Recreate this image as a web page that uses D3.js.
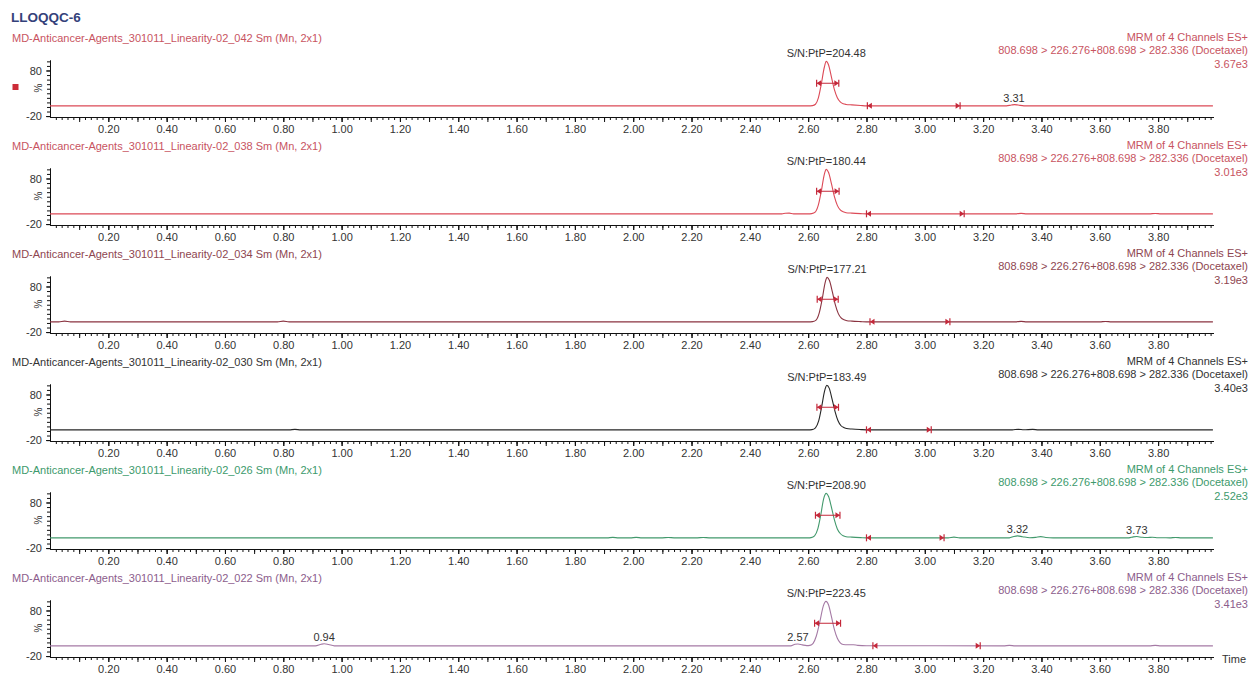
<!DOCTYPE html>
<html>
<head>
<meta charset="utf-8">
<script src="https://cdn.jsdelivr.net/npm/d3@7/dist/d3.min.js"></script>
<style>
  html, body { margin: 0; padding: 0; background: #fff; }
  svg { display: block; font-family: "Liberation Sans", Arial, sans-serif; }
</style>
</head>
<body>
<svg id="chart" width="1250" height="675"></svg>
<script>
// ---------------- DATA ----------------
const chartTitle = "LLOQQC-6";
const sampleIds = ["042", "038", "034", "030", "026", "022"];
const snValues = ["204.48", "180.44", "177.21", "183.49", "208.90", "223.45"];
const intensities = ["3.67e3", "3.01e3", "3.19e3", "3.40e3", "2.52e3", "3.41e3"];
const channelLine1 = "MRM of 4 Channels ES+";
const channelLine2 = "808.698 > 226.276+808.698 > 282.336 (Docetaxel)";
const peakApex = [2.662, 2.662, 2.665, 2.664, 2.662, 2.662];
const peakMarks = [[2.629, 2.705], [2.629, 2.706], [2.631, 2.703], [2.630, 2.704], [2.625, 2.709], [2.622, 2.711]];
const peakMarkLevel = [52, 52, 52, 52, 52, 52];
const noiseMarks = [[2.803, 3.121], [2.800, 3.135], [2.812, 3.086], [2.800, 3.022], [2.800, 3.066], [2.822, 3.190]];
const labeledPeaks = [
  [[3.306, "3.31"]],
  [],
  [],
  [],
  [[3.318, "3.32"], [3.727, "3.73"]],
  [[0.940, "0.94"], [2.565, "2.57"]]
];
const xTickValues = [0.2, 0.4, 0.6, 0.8, 1.0, 1.2, 1.4, 1.6, 1.8, 2.0, 2.2, 2.4, 2.6, 2.8, 3.0, 3.2, 3.4, 3.6, 3.8];
const yTickValues = [-20, 80];
const yTickLabels = ["-20", "80"];

const trace042 = [[0,2.5],[1.0,2.5],[2.0,2.5],[2.60,2.5],[2.615,3],[2.625,6],[2.635,20],[2.645,50],[2.655,86],[2.662,100],[2.67,92],[2.68,65],[2.69,38],[2.70,20],[2.71,11],[2.72,7],[2.73,5.5],[2.75,4.5],[2.78,3.2],[2.80,2.5],[3.28,2.5],[3.297,4.3],[3.308,5.2],[3.32,4.2],[3.34,2.5],[3.988,2.5]];
const trace038 = [[0,2.5],[1.0,2.5],[2.0,2.5],[2.51,2.5],[2.522,3.8],[2.535,4],[2.55,2.5],[2.60,2.5],[2.612,3],[2.625,7],[2.635,22],[2.645,52],[2.655,88],[2.662,100],[2.67,93],[2.68,68],[2.69,40],[2.70,21],[2.71,11],[2.72,7],[2.73,5],[2.75,4],[2.78,3],[2.80,2.5],[3.31,2.5],[3.33,3.5],[3.35,2.5],[3.77,2.5],[3.79,3.3],[3.81,2.5],[3.988,2.5]];
const trace034 = [[0,2.5],[0.03,2.5],[0.05,4],[0.07,2.5],[0.78,2.5],[0.80,4],[0.82,2.5],[1.5,2.5],[2.2,2.5],[2.60,2.5],[2.615,3],[2.628,7],[2.638,22],[2.648,52],[2.658,88],[2.665,100],[2.673,93],[2.683,68],[2.693,40],[2.703,21],[2.713,11],[2.723,7],[2.733,5],[2.75,4],[2.78,3],[2.80,2.5],[3.31,2.5],[3.33,3.4],[3.35,2.5],[3.60,2.5],[3.62,3.3],[3.64,2.5],[3.988,2.5]];
const trace030 = [[0,2.5],[0.82,2.5],[0.84,3.5],[0.86,2.5],[1.5,2.5],[2.2,2.5],[2.60,2.5],[2.613,3],[2.625,7],[2.636,22],[2.646,52],[2.656,87],[2.664,100],[2.672,94],[2.682,70],[2.692,43],[2.702,23],[2.712,12],[2.722,7.5],[2.732,5.5],[2.75,4.2],[2.78,3],[2.80,2.5],[3.30,2.5],[3.32,3.6],[3.34,2.6],[3.37,3.5],[3.39,2.5],[3.988,2.5]];
const trace026 = [[0,2.5],[1.0,2.5],[1.91,2.5],[1.93,3.4],[1.95,2.5],[1.99,2.5],[2.01,3.4],[2.03,2.5],[2.10,2.5],[2.12,3.2],[2.14,2.5],[2.22,2.5],[2.24,3.2],[2.26,2.5],[2.60,2.5],[2.61,3],[2.622,7],[2.633,22],[2.643,52],[2.653,88],[2.662,100],[2.67,93],[2.68,69],[2.69,42],[2.70,22],[2.71,12],[2.72,7],[2.73,5],[2.75,4],[2.78,3],[2.80,2.5],[3.08,2.5],[3.10,4],[3.12,2.5],[3.29,2.5],[3.305,5.5],[3.318,6.8],[3.335,5],[3.36,2.8],[3.38,3.5],[3.397,5.2],[3.415,3.2],[3.44,2.5],[3.70,2.5],[3.715,4.6],[3.727,5.3],[3.745,3.6],[3.765,3.2],[3.78,3.8],[3.80,2.6],[3.84,2.5],[3.86,3.3],[3.88,2.5],[3.988,2.5]];
const trace022 = [[0,2.5],[0.5,2.5],[0.91,2.5],[0.93,6],[0.94,7],[0.955,5.5],[0.975,2.5],[1.5,2.5],[2.2,2.5],[2.54,2.5],[2.555,5.8],[2.565,6.5],[2.58,4.5],[2.595,3],[2.606,3.5],[2.617,8],[2.628,24],[2.64,55],[2.652,90],[2.661,100],[2.67,92],[2.68,66],[2.69,38],[2.70,19],[2.71,9],[2.72,5.5],[2.735,5],[2.755,5],[2.77,3.5],[2.80,2.6],[3.27,2.5],[3.29,3.5],[3.31,2.5],[3.77,2.5],[3.79,3.5],[3.81,2.5],[3.988,2.5]];
const traces = [trace042, trace038, trace034, trace030, trace026, trace022];

// ---------------- STYLE ----------------
const traceColors = ["#dc4a57", "#dc4a57", "#8a3340", "#262626", "#42996c", "#a57aa5"];
const textColors  = ["#c8545f", "#c8545f", "#8e4650", "#333333", "#3d9a6c", "#8c5d8c"];
const markColor = "#c4283a";
const panelStep = 108;

// ---------------- DRAW ----------------
const svg = d3.select("#chart");
const x = d3.scaleLinear().domain([0, 3.99]).range([50, 1213.5]);

svg.append("text").attr("x", 11).attr("y", 22)
  .attr("font-size", 13.5).attr("font-weight", "bold").attr("fill", "#34417a")
  .text(chartTitle);

svg.append("rect").attr("x", 12.5).attr("y", 84).attr("width", 6).attr("height", 6).attr("fill", "#cc2c38");

sampleIds.forEach((id, i) => {
  const off = i * panelStep;
  const g = svg.append("g");
  const y = d3.scaleLinear().domain([-22, 103]).range([117 + off, 60 + off]);
  const tc = textColors[i];

  // headers
  g.append("text").attr("x", 12).attr("y", 42 + off).attr("font-size", 11).attr("fill", tc)
    .text(`MD-Anticancer-Agents_301011_Linearity-02_${id} Sm (Mn, 2x1)`);
  [channelLine1, channelLine2, intensities[i]].forEach((t, k) => {
    g.append("text").attr("x", 1248).attr("y", 41 + off + k * 13.3).attr("text-anchor", "end")
      .attr("font-size", 11).attr("fill", tc).text(t);
  });

  // x axis
  const xMinor = d3.axisBottom(x).tickValues(d3.range(0.02, 3.99, 0.02)).tickSize(3).tickSizeOuter(0).tickFormat("");
  const xMid = d3.axisBottom(x).tickValues(d3.range(0.1, 3.95, 0.1)).tickSize(5).tickSizeOuter(0).tickFormat("");
  const xMajor = d3.axisBottom(x).tickValues(xTickValues).tickSize(5).tickPadding(3).tickSizeOuter(0).tickFormat(d3.format(".2f"));
  [xMinor, xMid, xMajor].forEach(ax => {
    const a = g.append("g").attr("transform", `translate(0,${117 + off})`).call(ax);
    a.selectAll("path,line").attr("stroke", "#111");
    a.selectAll("text").attr("font-size", 11).attr("fill", "#333").attr("font-family", "Liberation Sans, Arial, sans-serif");
  });

  // y axis
  const yMinor = d3.axisLeft(y).tickValues(d3.range(-20, 101, 10)).tickSize(3).tickSizeOuter(0).tickFormat("");
  const yMajor = d3.axisLeft(y).tickValues(yTickValues).tickSize(4).tickPadding(4).tickSizeOuter(0)
    .tickFormat((d, k) => yTickLabels[k]);
  [yMinor, yMajor].forEach(ax => {
    const a = g.append("g").attr("transform", "translate(50,0)").call(ax);
    a.selectAll("path,line").attr("stroke", "#111");
    a.selectAll("text").attr("font-size", 11).attr("fill", "#333").attr("font-family", "Liberation Sans, Arial, sans-serif");
  });
  g.append("text").attr("transform", `translate(42,${88 + off}) rotate(-90)`)
    .attr("text-anchor", "middle").attr("font-size", 10).attr("fill", "#333").text("%");

  // trace
  const line = d3.line().x(d => x(d[0])).y(d => y(d[1])).curve(d3.curveMonotoneX);
  g.append("path").datum(traces[i]).attr("d", line)
    .attr("fill", "none").attr("stroke", traceColors[i]).attr("stroke-width", 1.1);

  // S/N label
  g.append("text").attr("x", x(peakApex[i])).attr("y", y(100) - 4).attr("text-anchor", "middle")
    .attr("font-size", 11).attr("fill", "#333").text(`S/N:PtP=${snValues[i]}`);

  // peak integration marks
  const ym = y(peakMarkLevel[i]);
  const [p1, p2] = peakMarks[i].map(x);
  g.append("line").attr("x1", p1).attr("x2", p2).attr("y1", ym).attr("y2", ym)
    .attr("stroke", markColor).attr("stroke-width", 1);
  const drawMark = (px, py, dir) => {
    g.append("line").attr("x1", px).attr("x2", px).attr("y1", py - 3.5).attr("y2", py + 3.5)
      .attr("stroke", markColor).attr("stroke-width", 1.2);
    g.append("path").attr("d", `M${px},${py} L${px + dir * 4.5},${py - 3} L${px + dir * 4.5},${py + 3} Z`)
      .attr("fill", markColor);
  };
  drawMark(p1, ym, 1);
  drawMark(p2, ym, -1);

  // noise region marks
  const yb = y(2.5);
  drawMark(x(noiseMarks[i][0]), yb, 1);
  drawMark(x(noiseMarks[i][1]), yb, -1);

  // labeled small peaks
  labeledPeaks[i].forEach(([t, lbl]) => {
    const pt = traces[i].reduce((a, b) => Math.abs(b[0] - t) < Math.abs(a[0] - t) ? b : a);
    g.append("text").attr("x", x(t)).attr("y", y(pt[1]) - 3).attr("text-anchor", "middle")
      .attr("font-size", 11).attr("fill", "#333").text(lbl);
  });
});

svg.append("text").attr("x", 1222).attr("y", 663).attr("font-size", 11).attr("fill", "#333").text("Time");
</script>
</body>
</html>
